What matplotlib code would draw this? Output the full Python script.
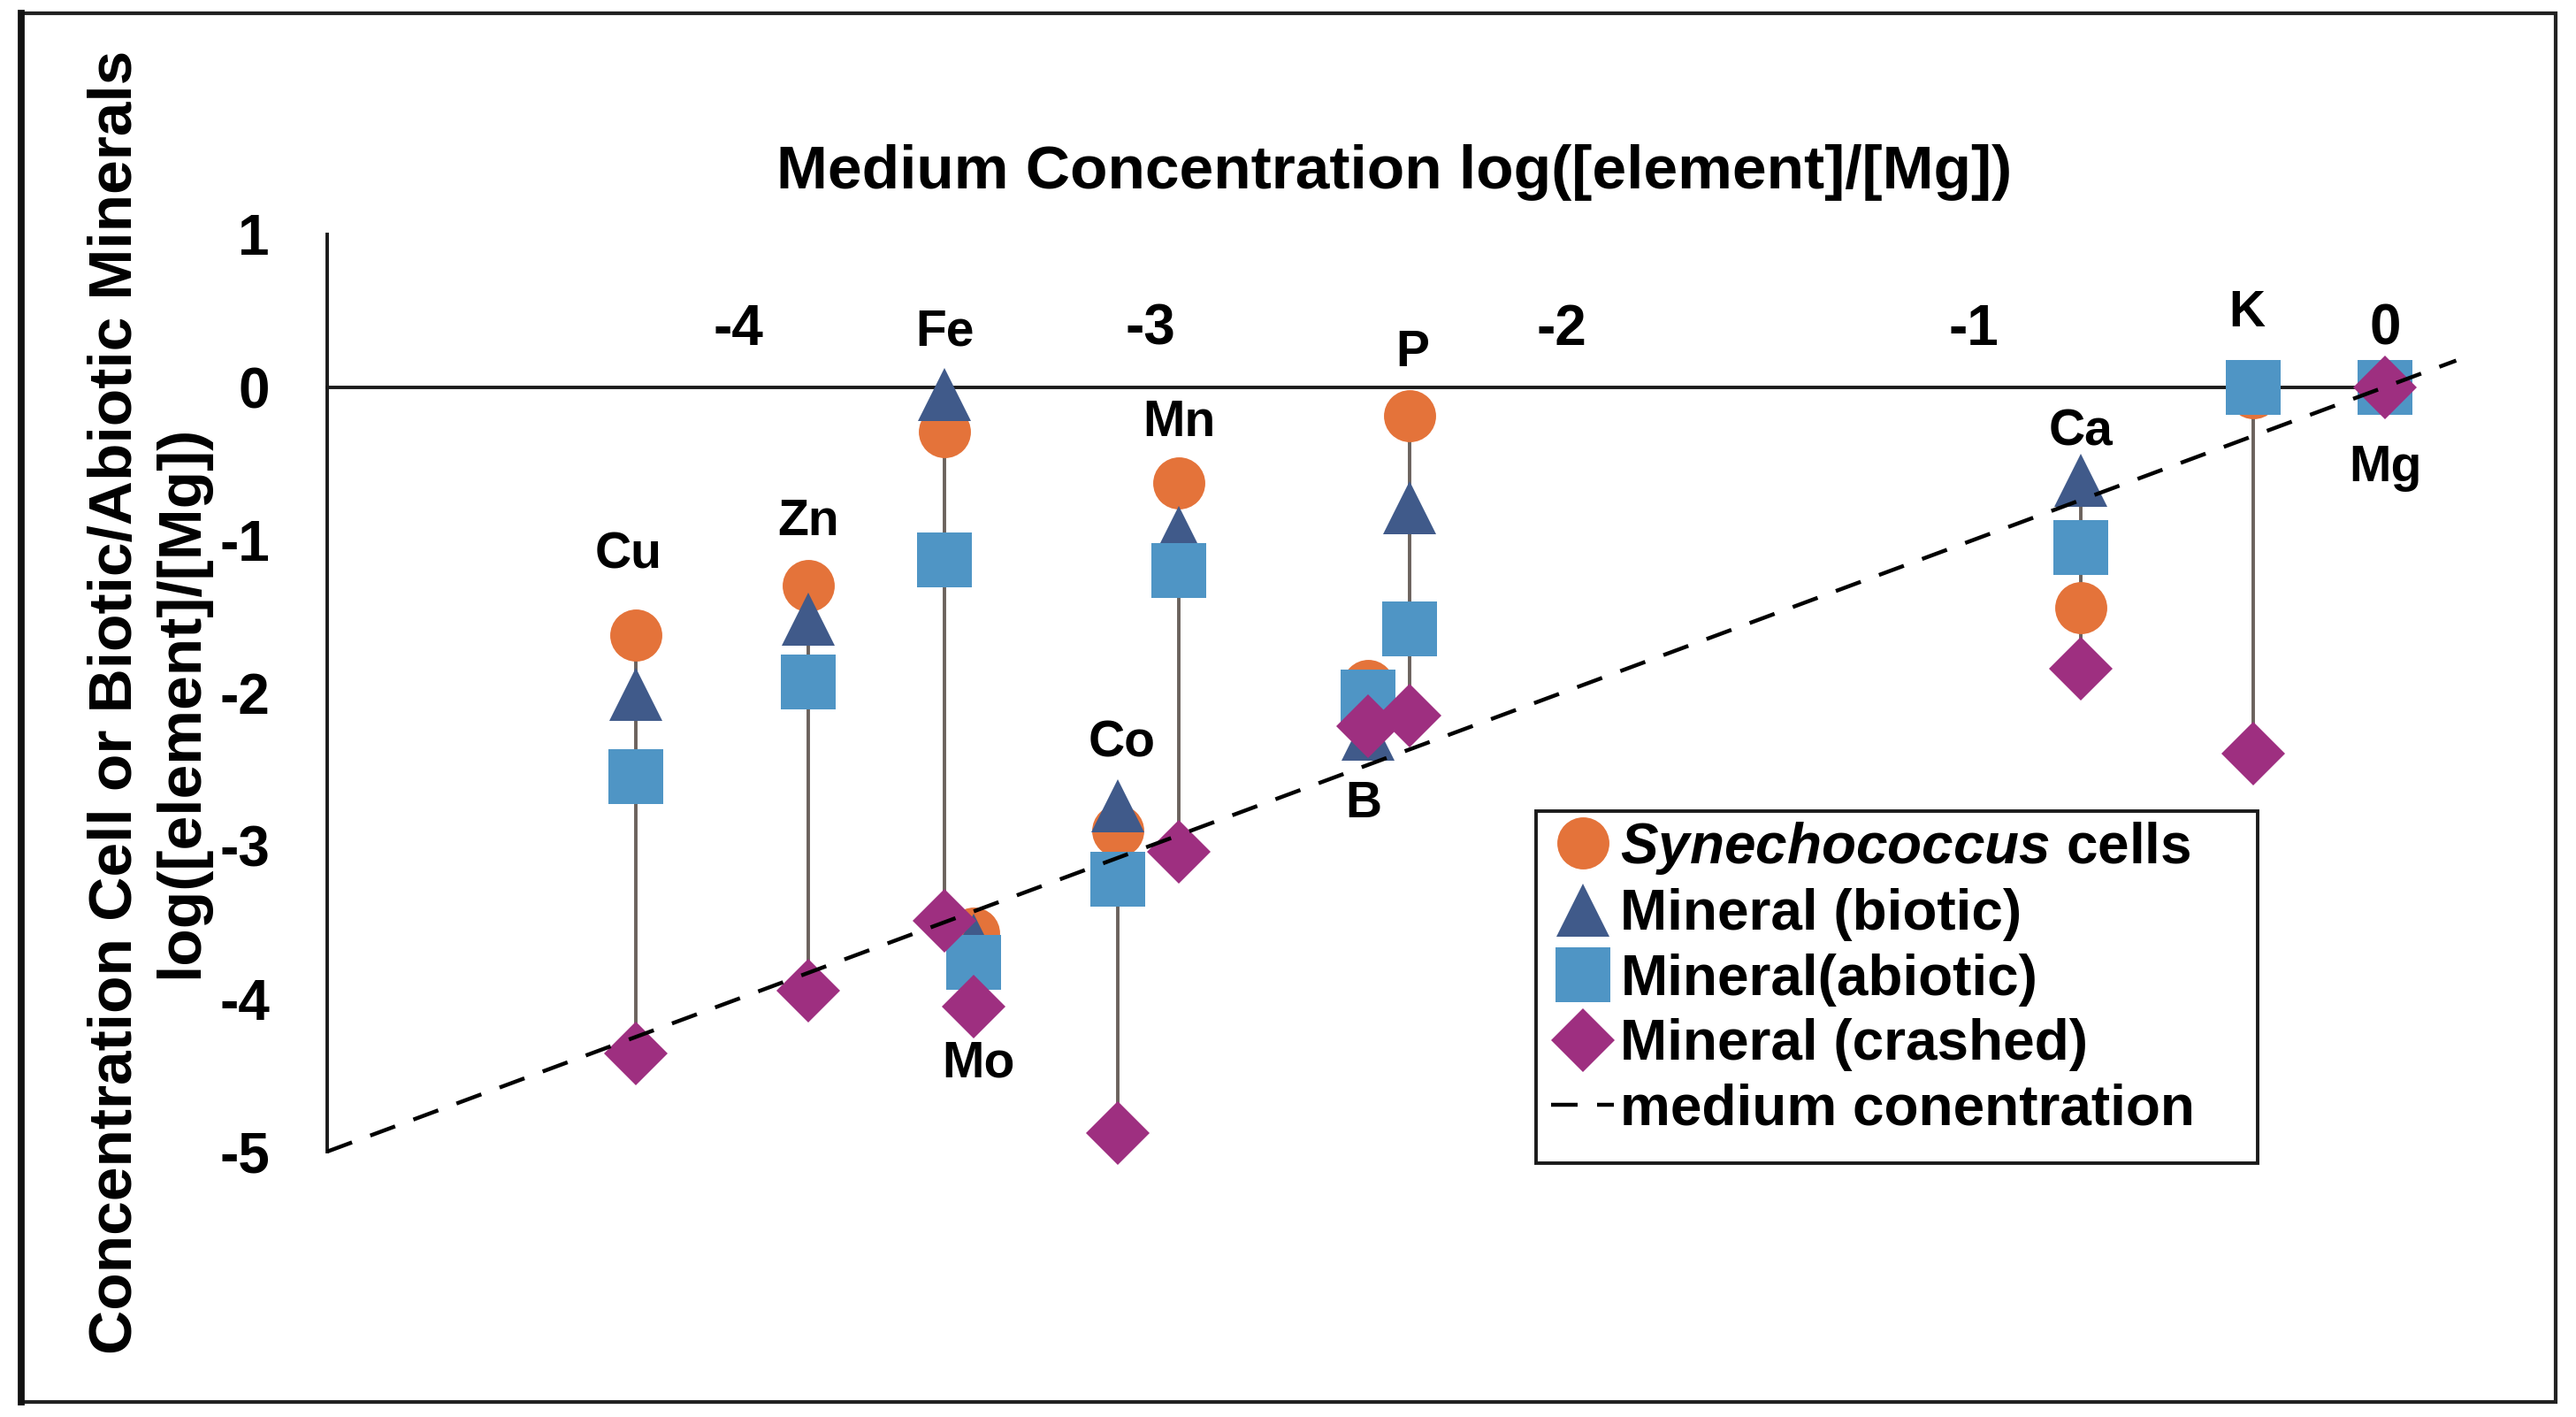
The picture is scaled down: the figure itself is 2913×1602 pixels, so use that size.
import matplotlib
matplotlib.use("Agg")
import matplotlib.pyplot as plt
from matplotlib.patches import Rectangle
from matplotlib.lines import Line2D

# 元素及其在培养基中的浓度 log([element]/[Mg])
elements = ['Cu', 'Zn', 'Fe', 'Mo', 'Co', 'Mn', 'B', 'P', 'Ca', 'K', 'Mg']
medium = [-4.25, -3.83, -3.50, -3.43, -3.08, -2.93, -2.47, -2.37, -0.74, -0.32, 0.0]

# 细胞 / 矿物中的浓度 log([element]/[Mg])
cells = [-1.62, -1.30, -0.29, -3.57, -2.90, -0.63, -1.95, -0.185, -1.445, -0.04, 0.0]
biotic = [-2.01, -1.52, -0.05, -3.62, -2.74, -0.95, -2.27, -0.79, -0.61, 0.0, 0.0]
abiotic = [-2.55, -1.93, -1.13, -3.76, -3.22, -1.20, -2.03, -1.58, -1.05, 0.0, 0.0]
crashed = [-4.36, -3.95, -3.49, -4.05, -4.88, -3.04, -2.22, -2.15, -1.84, -2.40, 0.0]

# 培养基浓度参考线 (y = x)
medium_line_x = [-5.0, 0.173]

x_ticks = [-4, -3, -2, -1, 0]
y_ticks = [-5, -4, -3, -2, -1, 0, 1]

plt.rcParams['font.family'] = ['Liberation Sans', 'DejaVu Sans']
plt.rcParams['font.weight'] = 'bold'
plt.rcParams['axes.unicode_minus'] = False
plt.rcParams['mathtext.fontset'] = 'custom'
plt.rcParams['mathtext.it'] = 'Liberation Sans:italic:bold'
plt.rcParams['mathtext.rm'] = 'Liberation Sans:bold'

fig = plt.figure(figsize=(14.565, 8.01), dpi=200)
ax = fig.add_axes([0.1270, 0.1873, 0.8308, 0.6475])
ax.set_xlim(-5, 0.2)
ax.set_ylim(-5, 1)

# 竖直连线: 每个元素从最小值连到最大值
all_vals = list(zip(cells, biotic, abiotic, crashed))
ax.vlines(medium, [min(v) for v in all_vals], [max(v) for v in all_vals],
          colors='#6B625D', linewidth=1.4, zorder=1.5)

kw = dict(linestyle='none', markeredgewidth=0, clip_on=False, zorder=3)
h1, = ax.plot(medium, cells, marker='o', markersize=21.2, color='#E4733A',
              label=r'$\it{Synechococcus}$ cells', **kw)
h2, = ax.plot(medium, biotic, marker='^', markersize=21.5, color='#405A8A',
              label='Mineral (biotic)', **kw)
h3, = ax.plot(medium, abiotic, marker='s', markersize=22.3, color='#4F95C5',
              label='Mineral(abiotic)', **kw)
h4, = ax.plot(medium, crashed, marker='D', markersize=18.3, color='#9E2F80',
              label='Mineral (crashed)', **kw)
h5, = ax.plot(medium_line_x, medium_line_x, color='black', linewidth=1.6,
              dashes=(6.75, 4.95), zorder=5, clip_on=False,
              label='medium conentration')

# 元素标签 (偏移量, 单位 points; 负值表示在最低点下方)
label_offsets = {'Cu': (-3, 32.4), 'Zn': (0, 26), 'Fe': (0, 25.5), 'Mo': (2, -23.5),
                 'Co': (2, 25.5), 'Mn': (0, 24.5), 'B': (-2, -28.6), 'P': (1, 25.5),
                 'Ca': (0, 19.5), 'K': (-2.5, 30), 'Mg': (0, -33)}
for name, xv, vals in zip(elements, medium, all_vals):
    dx, dy = label_offsets[name]
    yv = max(vals) if dy > 0 else min(vals)
    ax.annotate(name, xy=(xv, yv), xytext=(dx, dy), textcoords='offset points',
                ha='center', va='center', fontsize=20.5, fontweight='bold')

# 坐标轴样式
for side in ['right', 'bottom']:
    ax.spines[side].set_visible(False)
ax.spines['top'].set_position(('data', 0))
ax.spines['top'].set_bounds(-5, 0)
ax.spines['left'].set_bounds(-5, 1)
for side in ['top', 'left']:
    ax.spines[side].set_linewidth(1.4)
    ax.spines[side].set_color('#1a1a1a')

ax.xaxis.set_ticks_position('top')
ax.set_xticks(x_ticks)
ax.set_yticks(y_ticks)
ax.tick_params(axis='x', length=0, pad=12.5, labelsize=23)
ax.tick_params(axis='y', length=0, pad=23.4, labelsize=23)

ax.set_xlabel('Medium Concentration log([element]/[Mg])', fontsize=25, fontweight='bold')
ax.xaxis.set_label_position('top')
ax.xaxis.set_label_coords(0.4988, 1.050)
ax.set_ylabel('Concentration Cell or Biotic/Abiotic Minerals\nlog([element]/[Mg])',
              fontsize=25, fontweight='bold')
ax.yaxis.set_label_coords(-0.055, 0.49)

# 图例
ax.legend(handles=[h1, h2, h3, h4, h5], loc='upper left',
          bbox_to_anchor=(0.6023, 0.4215), bbox_transform=fig.transFigure,
          frameon=False, fontsize=23, handlelength=1.1, handletextpad=0.12,
          labelspacing=0.21, borderpad=0, borderaxespad=0, numpoints=1)
fig.add_artist(Rectangle((0.5963, 0.1792), 0.8764 - 0.5963, 0.4278 - 0.1792,
                         transform=fig.transFigure, fill=False,
                         edgecolor='#1a1a1a', linewidth=1.4))

# 外框
fig.add_artist(Rectangle((24 / 2913, 1 - 1585 / 1602), (2890 - 24) / 2913, (1585 - 15) / 1602,
                         transform=fig.transFigure, fill=False,
                         edgecolor='#222222', linewidth=1.5))
fig.add_artist(Line2D([24 / 2913, 24 / 2913], [1 - 1585 / 1602, 1 - 15 / 1602],
                      transform=fig.transFigure, color='#111111', linewidth=2.8))

fig.savefig('out.png', dpi=200)
